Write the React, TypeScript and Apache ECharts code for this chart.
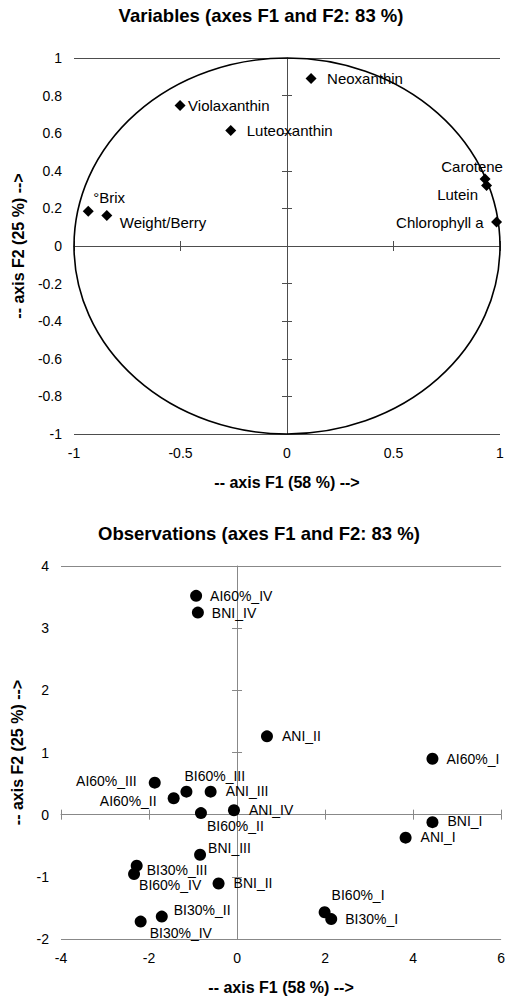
import React, { useEffect, useRef } from 'react';
import * as echarts from 'echarts';

// ---------- Data ----------
const varNames = ['°Brix', 'Weight/Berry', 'Violaxanthin', 'Luteoxanthin', 'Neoxanthin', 'Carotene', 'Lutein', 'Chlorophyll a'];
const varF1 = [-0.933, -0.846, -0.502, -0.264, 0.113, 0.930, 0.937, 0.984];
const varF2 = [0.185, 0.162, 0.747, 0.614, 0.891, 0.357, 0.322, 0.127];

const obsNames = ['AI60%_IV', 'BNI_IV', 'ANI_II', 'AI60%_I', 'AI60%_III', 'BI60%_III', 'ANI_III', 'AI60%_II', 'BI60%_II', 'ANI_IV',
  'BNI_I', 'ANI_I', 'BNI_III', 'BI30%_III', 'BI60%_IV', 'BNI_II', 'BI60%_I', 'BI30%_I', 'BI30%_II', 'BI30%_IV'];
const obsF1 = [-0.93, -0.89, 0.68, 4.44, -1.87, -1.15, -0.60, -1.44, -0.82, -0.07,
  4.44, 3.83, -0.84, -2.28, -2.34, -0.42, 1.99, 2.14, -1.71, -2.19];
const obsF2 = [3.52, 3.25, 1.26, 0.90, 0.515, 0.37, 0.37, 0.265, 0.025, 0.07,
  -0.12, -0.37, -0.645, -0.82, -0.955, -1.107, -1.57, -1.68, -1.64, -1.72];

// correlation circle: centre (F1, F2) and radius
const circle = [[0, 0, 1]];

const titleTop = 'Variables (axes F1 and F2: 83 %)';
const titleBottom = 'Observations (axes F1 and F2: 83 %)';
const nameF1 = '-- axis F1 (58 %) -->';
const nameF2 = '-- axis F2 (25 %) -->';

// ---------- Label placement (layout only) : [align, dx, dy] ----------
const varLabelPlace: Record<string, [string, number, number]> = {
  '°Brix': ['left', 5, -14],
  'Weight/Berry': ['left', 13, 7],
  'Violaxanthin': ['left', 8, 0],
  'Luteoxanthin': ['left', 16, 0],
  'Neoxanthin': ['left', 16, 0],
  'Carotene': ['center', -13, -12],
  'Lutein': ['center', -29, 9],
  'Chlorophyll a': ['right', -13, 0],
};
const obsLabelPlace: Record<string, [string, number, number]> = {
  'AI60%_IV': ['left', 14, 0],
  'BNI_IV': ['left', 14, 0],
  'ANI_II': ['left', 15, 0],
  'AI60%_I': ['left', 14, 0],
  'AI60%_III': ['right', -18, -2],
  'BI60%_III': ['left', -2, -16],
  'ANI_III': ['left', 15, -1],
  'AI60%_II': ['right', -17, 3],
  'BI60%_II': ['left', 6, 13],
  'ANI_IV': ['left', 15, 0],
  'BNI_I': ['left', 15, -1],
  'ANI_I': ['left', 15, -1],
  'BNI_III': ['left', 8, -7],
  'BI30%_III': ['left', 10, 4],
  'BI60%_IV': ['left', 5, 11],
  'BNI_II': ['left', 15, 0],
  'BI60%_I': ['left', 7, -17],
  'BI30%_I': ['left', 14, 0],
  'BI30%_II': ['left', 12, -7],
  'BI30%_IV': ['left', 9, 11],
};

const FONT = '"Liberation Sans", Arial, Helvetica, sans-serif';

function makeAxes(
  dim: 'x' | 'y',
  gridIndex: number,
  min: number,
  max: number,
  interval: number,
  lineColor: string,
  name: string,
  nameGap: number,
) {
  const pos = dim === 'x' ? 'bottom' : 'left';
  const base = { type: 'value', gridIndex, min, max, interval, position: pos };
  const axes: any[] = [
    // labels + name
    {
      ...base,
      axisLine: { show: false, onZero: false },
      axisTick: { show: false },
      splitLine: { show: false },
      axisLabel: { show: true, fontSize: 14, color: '#000', fontFamily: FONT, margin: 12 },
      name,
      nameLocation: 'middle',
      nameGap,
      nameRotate: dim === 'y' ? 90 : 0,
      nameTextStyle: { fontSize: 16, fontWeight: 'bold', color: '#000', fontFamily: FONT },
    },
    // zero line + outward ticks
    {
      ...base,
      axisLine: { show: true, onZero: true, lineStyle: { color: lineColor, width: 1 } },
      axisTick: { show: true, length: 5, inside: false, lineStyle: { color: lineColor, width: 1 } },
      splitLine: { show: false },
      axisLabel: { show: false },
    },
    // inward ticks
    {
      ...base,
      axisLine: { show: false, onZero: true },
      axisTick: { show: true, length: 5, inside: true, lineStyle: { color: lineColor, width: 1 } },
      splitLine: { show: false },
      axisLabel: { show: false },
    },
  ];
  return axes;
}

function gridLineAxis(gridIndex: number, min: number, max: number, color: string) {
  return {
    type: 'value', gridIndex, min, max, interval: max - min, position: 'left',
    axisLine: { show: false, onZero: false },
    axisTick: { show: false },
    axisLabel: { show: false },
    splitLine: { show: true, lineStyle: { color, width: 1 } },
  };
}

export default function App() {
  const ref = useRef<HTMLDivElement>(null);

  useEffect(() => {
    if (!ref.current) return;
    const chart = echarts.init(ref.current, undefined, { renderer: 'svg' });

    const topColor = '#4d4d4d';
    const botColor = '#888888';

    const xAxis = [
      ...makeAxes('x', 0, -1, 1, 0.5, topColor, nameF1, 40),
      ...makeAxes('x', 1, -4, 6, 2, botColor, nameF1, 40),
    ];
    const yAxis = [
      ...makeAxes('y', 0, -1, 1, 0.2, topColor, nameF2, 47),
      gridLineAxis(0, -1, 1, topColor),
      ...makeAxes('y', 1, -2, 4, 1, botColor, nameF2, 34),
      gridLineAxis(1, -2, 4, botColor),
    ];

    const varData = varNames.map((n, i) => {
      const p = varLabelPlace[n];
      return {
        name: n,
        value: [varF1[i], varF2[i]],
        label: { position: 'inside', align: p[0], verticalAlign: 'middle', offset: [p[1], p[2]] },
      };
    });
    const obsData = obsNames.map((n, i) => {
      const p = obsLabelPlace[n];
      return {
        name: n,
        value: [obsF1[i], obsF2[i]],
        label: { position: 'inside', align: p[0], verticalAlign: 'middle', offset: [p[1], p[2]] },
      };
    });

    const labelBase = { show: true, formatter: '{b}', color: '#000', fontFamily: FONT };

    chart.setOption({
      animation: false,
      backgroundColor: '#ffffff',
      title: [
        {
          text: titleTop, left: 261, top: 6, textAlign: 'center', padding: 0,
          textStyle: { fontSize: 18.5, fontWeight: 'bold', color: '#000', fontFamily: FONT },
        },
        {
          text: titleBottom, left: 259, top: 524, textAlign: 'center', padding: 0,
          textStyle: { fontSize: 18.5, fontWeight: 'bold', color: '#000', fontFamily: FONT },
        },
      ],
      grid: [
        { left: 74, top: 58, width: 426, height: 376, containLabel: false },
        { left: 61, top: 566, width: 445, height: 376, containLabel: false },
      ],
      xAxis,
      yAxis,
      series: [
        {
          type: 'custom',
          xAxisIndex: 0,
          yAxisIndex: 0,
          silent: true,
          data: circle,
          encode: { x: 0, y: 1 },
          renderItem: (params: any, api: any) => {
            const cx = api.value(0);
            const cy = api.value(1);
            const r = api.value(2);
            const c = api.coord([cx, cy]);
            const px = api.coord([cx + r, cy]);
            const py = api.coord([cx, cy + r]);
            const rx = px[0] - c[0];
            const ry = c[1] - py[1];
            const d = `M ${c[0] - rx} ${c[1]} A ${rx} ${ry} 0 1 0 ${c[0] + rx} ${c[1]} A ${rx} ${ry} 0 1 0 ${c[0] - rx} ${c[1]} Z`;
            return {
              type: 'path',
              shape: { pathData: d },
              style: { fill: 'none', stroke: '#000', lineWidth: 1.6 },
            };
          },
        },
        {
          type: 'scatter',
          xAxisIndex: 0,
          yAxisIndex: 0,
          symbol: 'diamond',
          symbolSize: 11,
          itemStyle: { color: '#000', opacity: 1 },
          label: { ...labelBase, fontSize: 15 },
          data: varData,
          z: 5,
        },
        {
          type: 'scatter',
          xAxisIndex: 3,
          yAxisIndex: 4,
          symbol: 'circle',
          symbolSize: 12,
          itemStyle: { color: '#000', opacity: 1 },
          label: { ...labelBase, fontSize: 14 },
          data: obsData,
          z: 5,
        },
      ],
    });

    return () => chart.dispose();
  }, []);

  return (
    <div
      ref={ref}
      style={{ position: 'absolute', left: 0, top: 0, width: 508, height: 996, background: '#fff' }}
    />
  );
}
